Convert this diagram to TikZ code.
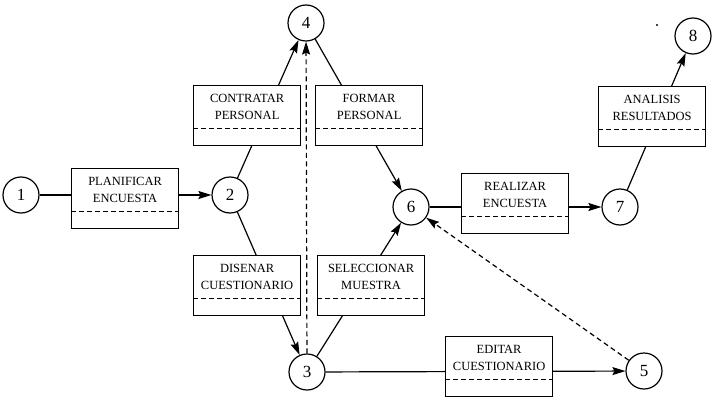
\documentclass[tikz,border=0pt]{standalone}
\usepackage{fontspec}
\setmainfont{Liberation Serif}
\usetikzlibrary{arrows.meta,shapes.multipart}
\begin{document}
\begin{tikzpicture}[x=1pt,y=-1pt,
  line width=1.2pt,
  event/.style={circle,draw,fill=white,minimum size=36pt,inner sep=0pt,
    font=\fontsize{17}{17}\selectfont},
  task/.style={rectangle split,rectangle split parts=2,
    rectangle split draw splits=false,draw,fill=white,anchor=north west,
    text width=101pt,align=center,inner xsep=3pt,inner ysep=8pt,
    font=\fontsize{12.5}{17}\selectfont,
    rectangle split empty part height=6pt,rectangle split empty part depth=0pt},
  flow/.style={-{Stealth[length=13pt,width=8pt,inset=2pt]}},
  dummy/.style={flow,dash pattern=on 5pt off 3.5pt},
  split/.style={line width=1pt,dash pattern=on 5pt off 3pt},
]
\useasboundingbox (0,0) rectangle (714,404);

% events
\node[event] (e1) at (21,195) {1};
\node[event] (e2) at (230,195) {2};
\node[event] (e3) at (307,372) {3};
\node[event] (e4) at (306,23) {4};
\node[event] (e5) at (644,371) {5};
\node[event] (e6) at (411,207) {6};
\node[event] (e7) at (620,207) {7};
\node[event] (e8) at (693,36) {8};
\fill (657,25) circle (1.1pt);

% activities (the boxes are laid over the lines afterwards)
\draw[flow] (e1) -- (e2);
\draw[flow] (e2) -- (e4);
\draw[flow] (e4) -- (e6);
\draw[flow] (e2) -- (e3);
\draw[flow] (e3) -- (e6);
\draw[flow] (e6) -- (e7);
\draw[flow] (e7) -- (e8);
\draw[flow] (e3) -- (e5);

\node[task] (tp) at (71,168) {PLANIFICAR\\ENCUESTA\nodepart{two}};
\node[task] (tc) at (193,85) {CONTRATAR\\PERSONAL\nodepart{two}};
\node[task] (tf) at (315,85) {FORMAR\\PERSONAL\nodepart{two}};
\node[task] (td) at (193,255) {DISENAR\\CUESTIONARIO\nodepart{two}};
\node[task] (ts) at (317,255) {SELECCIONAR\\MUESTRA\nodepart{two}};
\node[task] (tr) at (461,173) {REALIZAR\\ENCUESTA\nodepart{two}};
\node[task] (ta) at (598,86) {ANALISIS\\RESULTADOS\nodepart{two}};
\node[task] (te) at (445,336) {EDITAR\\CUESTIONARIO\nodepart{two}};

\foreach \t in {tp,tc,tf,td,ts,tr,ta,te}
  \draw[split] (\t.text split west) -- (\t.text split east);

% dummy activities
\draw[dummy] (e3) -- (e4);
\draw[dummy] (e5) -- (e6);
\end{tikzpicture}
\end{document}
